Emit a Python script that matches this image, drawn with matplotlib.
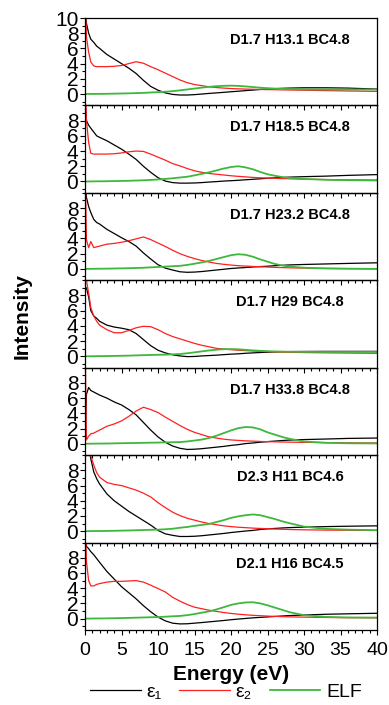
import matplotlib
matplotlib.use("Agg")
import matplotlib.pyplot as plt
from matplotlib.lines import Line2D
from matplotlib.ticker import MultipleLocator

plt.rcParams['font.family'] = ['Liberation Sans', 'DejaVu Sans']

# energy grid (eV) shared by every curve
energy = [0, 0.2, 0.5, 0.8, 1.2, 1.6, 2, 3, 4, 5, 6, 7, 8, 9, 10, 11, 12, 13, 14, 15,
          16, 17, 18, 19, 20, 21, 22, 23, 24, 25, 26, 27, 28, 30, 33, 36, 40]

titles = ["D1.7 H13.1 BC4.8", "D1.7 H18.5 BC4.8", "D1.7 H23.2 BC4.8", "D1.7 H29 BC4.8",
          "D1.7 H33.8 BC4.8", "D2.3 H11 BC4.6", "D2.1 H16 BC4.5"]

# D1.7 H13.1 BC4.8
e1_h13 = [11, 9.3, 8.0, 7.2, 6.8, 6.3, 6.0, 5.2, 4.6, 4.0, 3.4, 2.7, 1.8, 1.0, 0.5, 0.15, -0.05, -0.13, -0.13, -0.08,
          0.0, 0.08, 0.15, 0.22, 0.3, 0.37, 0.45, 0.52, 0.6, 0.65, 0.7, 0.75, 0.78, 0.82, 0.82, 0.78, 0.65]
e2_h13 = [14, 7.5, 5.5, 4.2, 3.7, 3.6, 3.6, 3.6, 3.65, 3.75, 4.0, 4.25, 4.05, 3.6, 3.2, 2.75, 2.3, 1.85, 1.5, 1.25,
          1.1, 0.95, 0.85, 0.78, 0.72, 0.68, 0.65, 0.62, 0.6, 0.58, 0.57, 0.55, 0.53, 0.5, 0.45, 0.4, 0.35]
elf_h13 = [0, 0, 0, 0.01, 0.01, 0.02, 0.02, 0.03, 0.05, 0.07, 0.09, 0.12, 0.15, 0.2, 0.25, 0.3, 0.38, 0.48, 0.6, 0.72,
           0.84, 0.95, 1.03, 1.08, 1.1, 1.07, 1.0, 0.92, 0.83, 0.77, 0.72, 0.68, 0.65, 0.62, 0.6, 0.6, 0.6]

# D1.7 H18.5 BC4.8
e1_h18 = [11, 8.0, 7.4, 7.0, 6.5, 6.0, 5.8, 5.35, 4.8, 4.25, 3.6, 2.9, 2.0, 1.2, 0.5, 0.05, -0.15, -0.22, -0.22, -0.2,
          -0.15, -0.08, -0.02, 0.05, 0.1, 0.15, 0.22, 0.28, 0.35, 0.42, 0.47, 0.52, 0.57, 0.63, 0.7, 0.8, 0.9]
e2_h18 = [14, 8.0, 5.1, 3.7, 3.6, 3.6, 3.6, 3.6, 3.65, 3.75, 3.9, 4.0, 3.95, 3.6, 3.2, 2.8, 2.35, 2.05, 1.7, 1.4,
          1.2, 1.05, 0.95, 0.85, 0.75, 0.67, 0.6, 0.53, 0.48, 0.44, 0.41, 0.38, 0.35, 0.3, 0.25, 0.21, 0.18]
elf_h18 = [0, 0, 0, 0.01, 0.01, 0.02, 0.02, 0.03, 0.05, 0.07, 0.09, 0.12, 0.15, 0.2, 0.26, 0.33, 0.42, 0.52, 0.62, 0.8,
           1.0, 1.2, 1.45, 1.7, 1.9, 2.0, 1.85, 1.6, 1.25, 0.95, 0.75, 0.58, 0.47, 0.33, 0.22, 0.17, 0.13]

# D1.7 H23.2 BC4.8
e1_h23 = [11, 9.4, 8.2, 7.4, 6.5, 6.1, 5.9, 5.2, 4.65, 4.1, 3.6, 3.0, 2.1, 1.3, 0.55, 0.1, -0.15, -0.38, -0.45, -0.42,
          -0.35, -0.25, -0.15, -0.05, 0.05, 0.12, 0.18, 0.25, 0.3, 0.35, 0.42, 0.47, 0.52, 0.58, 0.65, 0.72, 0.8]
e2_h23 = [14, 3.8, 2.8, 3.6, 2.8, 2.9, 3.0, 3.25, 3.35, 3.5, 3.7, 3.95, 4.2, 3.85, 3.4, 2.95, 2.45, 2.0, 1.65, 1.35,
          1.1, 0.9, 0.72, 0.6, 0.5, 0.42, 0.37, 0.32, 0.28, 0.24, 0.2, 0.17, 0.14, 0.1, 0.06, 0.03, 0.0]
elf_h23 = [0, 0, 0, 0.01, 0.01, 0.02, 0.02, 0.03, 0.05, 0.07, 0.09, 0.12, 0.15, 0.2, 0.25, 0.3, 0.35, 0.4, 0.52, 0.68,
           0.85, 1.05, 1.3, 1.55, 1.8, 1.93, 1.85, 1.6, 1.25, 0.95, 0.65, 0.45, 0.3, 0.15, 0.06, 0.03, 0.0]

# D1.7 H29 BC4.8
e1_h29 = [9.0, 9.0, 7.8, 6.0, 5.3, 5.0, 4.6, 4.1, 3.85, 3.7, 3.5, 3.0, 2.2, 1.4, 0.8, 0.45, 0.2, 0.05, -0.04, -0.02,
          0.05, 0.1, 0.15, 0.22, 0.28, 0.33, 0.4, 0.45, 0.5, 0.54, 0.57, 0.6, 0.62, 0.64, 0.65, 0.65, 0.65]
e2_h29 = [14, 10, 8.3, 6.4, 5.3, 4.6, 4.1, 3.5, 3.1, 3.1, 3.4, 3.75, 3.95, 3.9, 3.5, 3.0, 2.6, 2.3, 2.0, 1.7,
          1.45, 1.25, 1.05, 0.95, 0.87, 0.8, 0.75, 0.7, 0.65, 0.62, 0.59, 0.56, 0.53, 0.5, 0.46, 0.43, 0.4]
elf_h29 = [0, 0, 0, 0.01, 0.01, 0.02, 0.02, 0.03, 0.05, 0.07, 0.09, 0.12, 0.15, 0.18, 0.2, 0.22, 0.26, 0.3, 0.4, 0.52,
           0.65, 0.77, 0.87, 0.94, 0.95, 0.92, 0.85, 0.78, 0.72, 0.68, 0.64, 0.62, 0.6, 0.58, 0.57, 0.57, 0.57]

# D1.7 H33.8 BC4.8
e1_h33 = [0.0, 6.5, 7.4, 7.0, 6.8, 6.6, 6.4, 6.0, 5.5, 5.1, 4.5, 3.8, 2.8, 1.8, 0.9, 0.2, -0.3, -0.6, -0.75, -0.72,
          -0.65, -0.55, -0.45, -0.35, -0.22, -0.12, 0.02, 0.1, 0.2, 0.28, 0.35, 0.42, 0.48, 0.55, 0.62, 0.7, 0.75]
e2_h33 = [14, 0.5, 1.0, 1.3, 1.4, 1.6, 1.8, 2.3, 2.6, 3.0, 3.6, 4.3, 4.8, 4.5, 4.1, 3.5, 2.95, 2.4, 1.9, 1.5,
          1.2, 0.9, 0.75, 0.6, 0.5, 0.44, 0.38, 0.34, 0.3, 0.27, 0.25, 0.23, 0.21, 0.18, 0.15, 0.12, 0.1]
elf_h33 = [0, 0, 0, 0.01, 0.01, 0.02, 0.02, 0.03, 0.05, 0.07, 0.09, 0.1, 0.12, 0.14, 0.15, 0.18, 0.2, 0.22, 0.3, 0.42,
           0.55, 0.75, 1.05, 1.4, 1.75, 2.05, 2.2, 2.15, 1.9, 1.5, 1.2, 0.9, 0.65, 0.3, 0.12, 0.06, 0.04]

# D2.3 H11 BC4.6
e1_h11 = [14, 13, 11, 9.5, 7.8, 6.9, 6.2, 4.9, 4.0, 3.3, 2.6, 2.0, 1.4, 0.8, 0.1, -0.35, -0.55, -0.7, -0.7, -0.67,
          -0.6, -0.5, -0.4, -0.3, -0.18, -0.08, 0.02, 0.1, 0.22, 0.3, 0.36, 0.42, 0.47, 0.53, 0.6, 0.65, 0.7]
e2_h11 = [16, 14, 12, 9.9, 8.7, 7.7, 7.1, 6.4, 6.15, 6.0, 5.7, 5.4, 5.0, 4.5, 3.75, 3.1, 2.5, 2.05, 1.7, 1.45,
          1.2, 1.0, 0.85, 0.7, 0.6, 0.52, 0.46, 0.4, 0.36, 0.32, 0.28, 0.25, 0.22, 0.18, 0.14, 0.12, 0.1]
elf_h11 = [0, 0, 0, 0.01, 0.01, 0.02, 0.02, 0.03, 0.05, 0.07, 0.09, 0.12, 0.15, 0.18, 0.2, 0.25, 0.32, 0.45, 0.55, 0.7,
           0.82, 0.95, 1.2, 1.45, 1.75, 1.95, 2.1, 2.2, 2.1, 1.85, 1.6, 1.3, 1.05, 0.6, 0.3, 0.2, 0.13]

# D2.1 H16 BC4.5
e1_h16 = [12, 9.5, 9.2, 8.8, 8.4, 7.9, 7.4, 6.2, 5.2, 4.2, 3.4, 2.6, 1.7, 0.9, 0.2, -0.3, -0.6, -0.7, -0.68, -0.6,
          -0.52, -0.43, -0.34, -0.25, -0.15, -0.06, 0.02, 0.1, 0.16, 0.22, 0.28, 0.34, 0.4, 0.47, 0.57, 0.63, 0.7]
e2_h16 = [14, 7.5, 5.0, 4.3, 4.3, 4.5, 4.6, 4.8, 4.9, 4.9, 4.95, 5.0, 4.8, 4.4, 3.95, 3.5, 2.8, 2.3, 1.85, 1.5,
          1.3, 1.1, 0.95, 0.8, 0.68, 0.58, 0.5, 0.43, 0.38, 0.33, 0.29, 0.26, 0.23, 0.19, 0.15, 0.12, 0.1]
elf_h16 = [0, 0, 0, 0.01, 0.01, 0.02, 0.02, 0.03, 0.05, 0.07, 0.09, 0.12, 0.15, 0.18, 0.2, 0.25, 0.3, 0.35, 0.45, 0.6,
           0.78, 0.95, 1.2, 1.5, 1.8, 2.0, 2.12, 2.15, 2.0, 1.75, 1.45, 1.15, 0.85, 0.45, 0.22, 0.15, 0.13]

e1_all = [e1_h13, e1_h18, e1_h23, e1_h29, e1_h33, e1_h11, e1_h16]
e2_all = [e2_h13, e2_h18, e2_h23, e2_h29, e2_h33, e2_h11, e2_h16]
elf_all = [elf_h13, elf_h18, elf_h23, elf_h29, elf_h33, elf_h11, elf_h16]

c_e1 = 'black'
c_e2 = '#ff2020'
c_elf = '#3db83d'

W, H = 389, 705
fig = plt.figure(figsize=(W / 100, H / 100), dpi=100)
fig.patch.set_facecolor('white')

left, right, top, bottom = 85, 377, 18, 630
ph = (bottom - top) / 7

for i in range(7):
    y_bot = 1 - (top + ph * (i + 1)) / H
    ax = fig.add_axes([left / W, y_bot, (right - left) / W, ph / H])
    ax.set_facecolor('none')
    ax.plot(energy, e1_all[i], color=c_e1, lw=0.9)
    ax.plot(energy, e2_all[i], color=c_e2, lw=0.9)
    ax.plot(energy, elf_all[i], color=c_elf, lw=1.3)
    ax.set_xlim(0, 40)
    ax.set_ylim(-1.5, 10)
    ax.xaxis.set_major_locator(MultipleLocator(5))
    ax.xaxis.set_minor_locator(MultipleLocator(1))
    ax.set_yticks(range(0, 11 if i == 0 else 9, 2))
    ax.yaxis.set_minor_locator(MultipleLocator(1))
    ax.tick_params(axis='both', which='both', direction='out', top=False, right=False)
    ax.tick_params(which='major', length=3.3, width=0.8)
    ax.tick_params(which='minor', length=2.4, width=0.8)
    ax.tick_params(axis='y', labelsize=15, pad=1.5)
    ax.tick_params(axis='x', labelsize=14, pad=5.5)
    if i < 6:
        ax.tick_params(axis='x', labelbottom=False)
    for s in ax.spines.values():
        s.set_linewidth(0.9)
    ax.text(0.702, 0.75, titles[i], transform=ax.transAxes, ha='center', va='center',
            fontsize=10.5, fontweight='bold')

fig.text(22 / W, 1 - 316 / H, 'Intensity', rotation=90, ha='center', va='center',
         fontsize=15, fontweight='bold')
fig.text((left + right) / 2 / W, 1 - 674 / H, 'Energy (eV)', ha='center', va='center',
         fontsize=15, fontweight='bold')

handles = [Line2D([], [], color=c_e1, lw=0.9),
           Line2D([], [], color=c_e2, lw=0.9),
           Line2D([], [], color=c_elf, lw=1.3)]
fig.legend(handles, ['ε₁', 'ε₂', 'ELF'], loc='center', bbox_to_anchor=(226 / W, 1 - 692 / H),
           ncol=3, frameon=False, fontsize=14, handlelength=2.6, handletextpad=0.3,
           columnspacing=0.9, borderpad=0)

fig.savefig('out.png', dpi=100)
